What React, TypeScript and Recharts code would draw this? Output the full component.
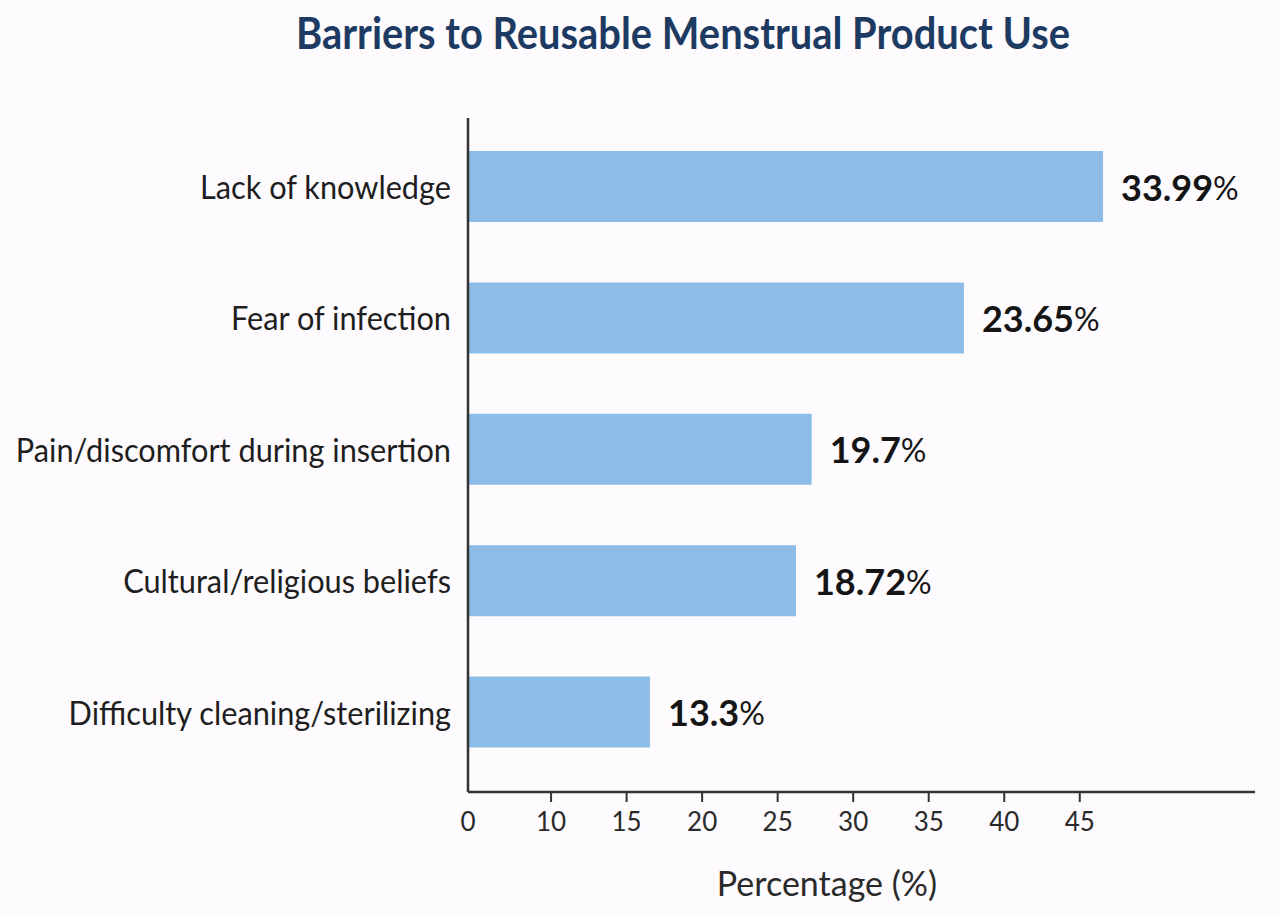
import { Bar, BarChart, LabelList, XAxis, YAxis } from "recharts";

const barriers = [
  "Lack of knowledge",
  "Fear of infection",
  "Pain/discomfort during insertion",
  "Cultural/religious beliefs",
  "Difficulty cleaning/sterilizing",
];
// percentages printed beside the bars
const shares = [33.99, 23.65, 19.7, 18.72, 13.3];
// where each bar actually ends, read against the drawn axis
const barEnds = [46.54, 37.33, 27.25, 26.21, 16.55];

// the first tick sits at the axis start but is printed as "0"
const tickValues = [4.5, 10, 15, 20, 25, 30, 35, 40, 45];
const tickLabels = ["0", "10", "15", "20", "25", "30", "35", "40", "45"];
const axisDomain: [number, number] = [4.5, 56.6];

const chartData = barriers.map((name, i) => ({
  name,
  share: shares[i],
  length: barEnds[i],
}));

const BAR_COLOR = "#8dbde6";
const AXIS_COLOR = "#333333";
const TEXT_COLOR = "#1e1e1e";
const FONT = "Lato, 'Open Sans', sans-serif";

// reference labels use a slightly narrow face, so squeeze Lato a bit
const CategoryTick = ({ x, y, payload }: any) => (
  <g transform={`translate(${x},${y}) scale(0.96,1)`}>
    <text
      x={0}
      y={0}
      textAnchor="end"
      dominantBaseline="central"
      fontFamily={FONT}
      fontSize={32}
      fill={TEXT_COLOR}
    >
      {payload.value}
    </text>
  </g>
);

const ValueTick = ({ x, y, payload, index }: any) => (
  <g>
    {index > 0 && (
      <line x1={x} x2={x} y1={y - 20} y2={y - 10} stroke={AXIS_COLOR} strokeWidth={2} />
    )}
    <text x={x} y={y + 19} textAnchor="middle" fontFamily={FONT} fontSize={26} fill="#2a2a2a">
      {tickLabels[tickValues.indexOf(payload.value)]}
    </text>
  </g>
);

const ShareLabel = ({ x, y, width, height, index }: any) => (
  <text
    x={x + width + 18}
    y={y + height / 2}
    dominantBaseline="central"
    fontFamily={FONT}
    fill="#151515"
  >
    <tspan fontSize={36} fontWeight={700}>
      {shares[index]}
    </tspan>
    <tspan fontSize={32} fontWeight={400}>
      %
    </tspan>
  </text>
);

export default function App() {
  return (
    <div style={{ position: "relative", width: 1280, height: 918, background: "#fdfbfd" }}>
      <style>{"body{margin:0}"}</style>
      <svg width={1280} height={80} style={{ position: "absolute", left: 0, top: 0 }}>
        <text
          x={296}
          y={49}
          textLength={774}
          lengthAdjust="spacingAndGlyphs"
          fontFamily={FONT}
          fontSize={43}
          fontWeight={700}
          fill="#1d3b62"
        >
          Barriers to Reusable Menstrual Product Use
        </text>
      </svg>
      <BarChart
        width={1280}
        height={918}
        data={chartData}
        layout="vertical"
        margin={{ top: 118, right: 25, bottom: 76, left: 0 }}
        barSize={71}
      >
        <XAxis
          type="number"
          domain={axisDomain}
          ticks={tickValues}
          allowDataOverflow
          height={50}
          tickSize={10}
          tickMargin={10}
          tickLine={false}
          axisLine={{ stroke: AXIS_COLOR, strokeWidth: 2.5 }}
          tick={<ValueTick />}
        />
        <YAxis
          type="category"
          dataKey="name"
          width={468}
          tickLine={false}
          tickMargin={11}
          padding={{ top: 3, bottom: 14 }}
          axisLine={{ stroke: AXIS_COLOR, strokeWidth: 2.5 }}
          tick={<CategoryTick />}
        />
        <Bar dataKey="length" fill={BAR_COLOR} isAnimationActive={false}>
          <LabelList dataKey="share" content={<ShareLabel />} />
        </Bar>
      </BarChart>
      <div
        style={{
          position: "absolute",
          left: 0,
          width: 1654,
          top: 862,
          textAlign: "center",
          fontFamily: FONT,
          fontSize: 34,
          color: "#2a2a2a",
        }}
      >
        Percentage (%)
      </div>
    </div>
  );
}
